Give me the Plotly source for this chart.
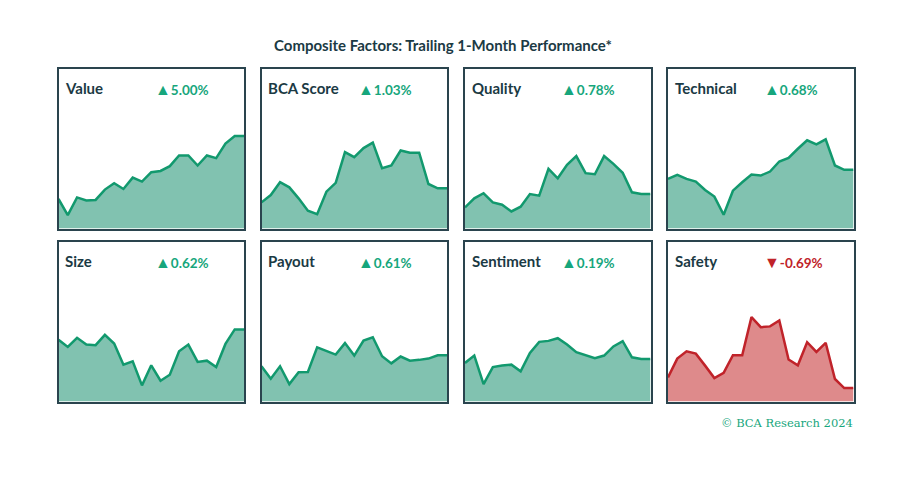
import plotly.graph_objects as go

# ---- data (index of trailing 1-month path, 0-100 panel scale) ----
factors = ["Value", "BCA Score", "Quality", "Technical",
           "Size", "Payout", "Sentiment", "Safety"]
changes = [5.00, 1.03, 0.78, 0.68, 0.62, 0.61, 0.19, -0.69]
days = list(range(21))

value = [18.5, 8.4, 19.5, 17.6, 17.9, 24.4, 28.4, 24.8, 31.9, 29.4, 35.3,
         36.1, 39.1, 45.8, 45.8, 39.5, 45.8, 44.1, 53.2, 58.0, 58.0]
bca_score = [16.4, 21.0, 29.0, 25.8, 18.9, 11.1, 9.0, 23.1, 28.6, 47.9, 44.7,
             50.4, 53.8, 37.8, 39.5, 48.9, 47.5, 47.5, 27.9, 25.2, 25.2]
quality = [13.2, 18.9, 22.1, 16.4, 14.9, 10.7, 13.7, 21.6, 20.6, 37.4, 31.5,
           39.9, 45.4, 34.7, 34.0, 45.4, 40.5, 34.9, 22.7, 21.6, 21.6]
technical = [31.1, 33.6, 31.1, 29.4, 24.2, 20.0, 8.6, 23.7, 29.0, 33.8, 33.2,
             35.7, 42.0, 44.3, 50.0, 55.3, 52.7, 55.9, 39.5, 36.8, 36.8]
size = [38.7, 34.2, 39.9, 35.7, 35.3, 41.8, 36.3, 23.1, 25.2, 10.1, 22.7,
        13.0, 16.8, 31.5, 35.7, 24.8, 25.6, 21.6, 36.1, 45.2, 45.2]
payout = [22.1, 14.3, 22.1, 10.9, 18.3, 18.5, 34.0, 31.5, 29.4, 36.6, 28.8,
          38.2, 40.3, 28.4, 23.9, 28.2, 25.6, 26.1, 26.9, 29.0, 29.0]
sentiment = [24.2, 28.8, 10.9, 21.6, 22.5, 23.1, 18.9, 30.5, 37.4, 38.0, 39.7,
             35.7, 30.9, 29.2, 27.1, 28.8, 34.5, 37.8, 27.7, 26.7, 26.7]
safety = [15.1, 26.9, 31.5, 30.0, 22.5, 14.7, 17.9, 29.0, 29.0, 52.9, 46.6,
          47.1, 50.8, 26.3, 22.7, 37.2, 31.1, 36.8, 14.1, 8.4, 8.4]

series = [value, bca_score, quality, technical, size, payout, sentiment, safety]

# ---- styling ----
W, H = 912, 499
OFF = 8  # page body margin offset
col_left = [58.5 - OFF, 261.5 - OFF, 465 - OFF, 668 - OFF]
panel_w = 185.5
row_top = [69 - OFF, 242 - OFF]
panel_h = 159.5
DARK = "#1B3A44"
BORDER = "#2A444E"
GREEN_LINE = "#12996E"
GREEN_FILL = "#81C2B0"
GREEN_TXT = "#17A67C"
RED_LINE = "#C0232A"
RED_FILL = "#DE8A8B"
RED_TXT = "#C0232A"
FONT = "Lato"

fig = go.Figure()
annotations = []
for i, (name, chg, ys) in enumerate(zip(factors, changes, series)):
    r, c = divmod(i, 4)
    k = i + 1
    xa = "x" if k == 1 else f"x{k}"
    ya = "y" if k == 1 else f"y{k}"
    pos = chg >= 0
    fig.add_trace(go.Scatter(
        x=days, y=ys, mode="lines", xaxis=xa, yaxis=ya,
        line=dict(color=GREEN_LINE if pos else RED_LINE, width=2.5),
        fill="tozeroy", fillcolor=GREEN_FILL if pos else RED_FILL,
        hoverinfo="skip", showlegend=False))
    x0 = col_left[c] / W
    x1 = (col_left[c] + panel_w) / W
    y1 = 1 - row_top[r] / H
    y0 = 1 - (row_top[r] + panel_h) / H
    axkey = "xaxis" if k == 1 else f"xaxis{k}"
    aykey = "yaxis" if k == 1 else f"yaxis{k}"
    common = dict(showgrid=False, zeroline=False, showticklabels=False,
                  ticks="", showline=True, mirror=True,
                  linecolor=BORDER, linewidth=2, fixedrange=True)
    fig.update_layout({
        axkey: dict(domain=[x0, x1], range=[0, 20], anchor=ya, **common),
        aykey: dict(domain=[y0, y1], range=[0, 100], anchor=xa, **common),
    })
    annotations.append(dict(
        xref=f"{xa} domain", yref=f"{ya} domain",
        x=4.5 / panel_w, y=1 - 19 / panel_h, xanchor="left", yanchor="middle",
        text=f"<b>{name}</b>", showarrow=False,
        font=dict(family=FONT, size=15, color=DARK)))
    arrow = "▲" if pos else "▼"
    annotations.append(dict(
        xref=f"{xa} domain", yref=f"{ya} domain",
        x=94 / panel_w, y=1 - 19 / panel_h, xanchor="left", yanchor="middle",
        text=(f"<span style='font-size:16px'>{arrow}</span>"
              f"<b>{chg:.2f}%</b>"),
        showarrow=False,
        font=dict(family=FONT, size=13.5,
                  color=GREEN_TXT if pos else RED_TXT)))

annotations.append(dict(
    xref="paper", yref="paper", x=(443 - OFF) / W, y=1 - (45 - OFF) / H,
    xanchor="center", yanchor="middle", showarrow=False,
    text="<b>Composite Factors: Trailing 1-Month Performance*</b>",
    font=dict(family=FONT, size=15, color=DARK)))
annotations.append(dict(
    xref="paper", yref="paper", x=(855 - OFF) / W, y=1 - (423 - OFF) / H,
    xanchor="right", yanchor="middle", showarrow=False,
    text="© BCA Research 2024",
    font=dict(family="DejaVu Serif", size=11.5, color=GREEN_TXT)))

fig.update_layout(
    width=W, height=H, margin=dict(l=0, r=0, t=0, b=0),
    paper_bgcolor="white", plot_bgcolor="white",
    annotations=annotations, showlegend=False)

fig.write_html("out.html")
